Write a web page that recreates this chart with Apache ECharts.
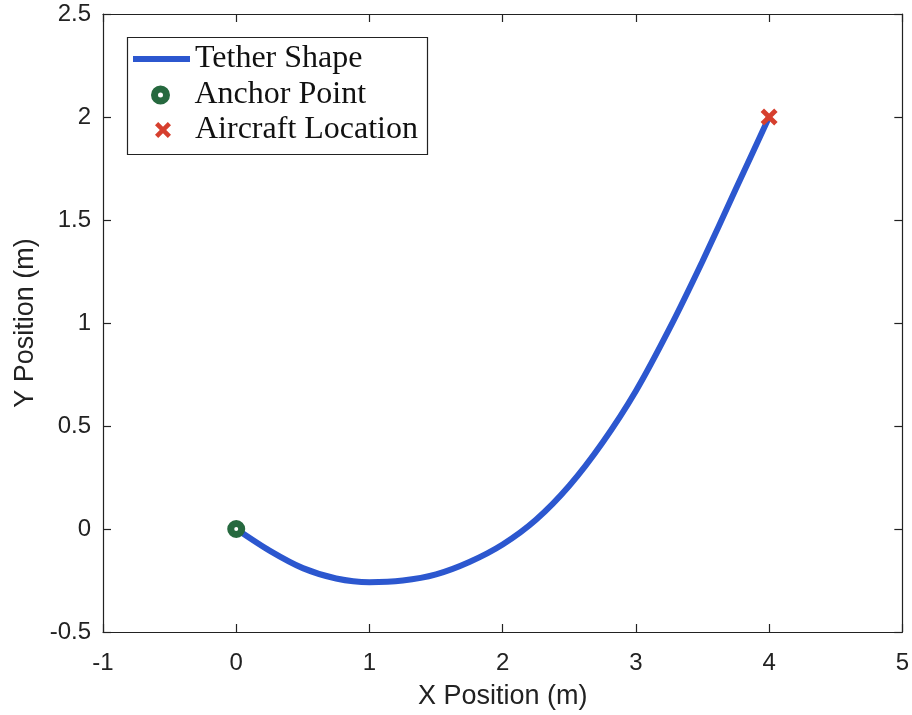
<!DOCTYPE html>
<html>
<head>
<meta charset="utf-8">
<script src="https://cdn.jsdelivr.net/npm/echarts@6/dist/echarts.min.js"></script>
<style>html,body{margin:0;padding:0;background:#fff;}#c{width:912px;height:715px;}</style>
</head>
<body>
<div id="c"></div>
<script>
// Tether shape samples
var tetherX = [0, 0.25, 0.5, 0.75, 1.0, 1.25, 1.5, 1.75, 2.0, 2.25, 2.5, 2.75, 3.0, 3.25, 3.5, 3.75, 4.0];
var tetherY = [0, -0.105, -0.19, -0.24, -0.258, -0.25, -0.22, -0.16, -0.075, 0.045, 0.21, 0.42, 0.67, 0.97, 1.30, 1.65, 2.0];
var anchorPoint = [0, 0];
var aircraftPoint = [4, 2];
var seriesNames = ['Tether Shape', 'Anchor Point', 'Aircraft Location'];
var xLabel = 'X Position (m)';
var yLabel = 'Y Position (m)';

var blue = '#2c57cf', green = '#26693f', red = '#d63f2e';
var xPath = 'path://M0,2L2,0L5,3L8,0L10,2L7,5L10,8L8,10L5,7L2,10L0,8L3,5Z';
var barPath = 'path://M0,0H57V6H0Z';

var tetherData = tetherX.map(function (x, i) { return [x, tetherY[i]]; });
var chart = echarts.init(document.getElementById('c'), null, {renderer: 'canvas'});
var sans = 'Liberation Sans, Arial, sans-serif';
var serif = 'Liberation Serif, Times New Roman, serif';
var axCommon = {
  axisLine: {show: true, onZero: false, lineStyle: {color: '#222', width: 1.2}},
  axisTick: {show: true, inside: true, length: 8, lineStyle: {color: '#222', width: 1.2}},
  splitLine: {show: false}
};
function legText(p) { return {fontFamily: serif, fontSize: 32, color: '#111', padding: [0, 0, 0, p]}; }
chart.setOption({
  animation: false,
  backgroundColor: '#fff',
  grid: {left: 103, right: 9, top: 14, bottom: 81},
  xAxis: [
    Object.assign({type: 'value', min: -1, max: 5, interval: 1, position: 'bottom',
      name: xLabel, nameLocation: 'middle', nameGap: 51,
      nameTextStyle: {fontFamily: sans, fontSize: 27, color: '#222'},
      axisLabel: {fontFamily: sans, fontSize: 24, color: '#222', margin: 19}}, axCommon),
    Object.assign({type: 'value', min: -1, max: 5, interval: 1, position: 'top',
      axisLabel: {show: false}}, axCommon)
  ],
  yAxis: [
    Object.assign({type: 'value', min: -0.5, max: 2.5, interval: 0.5, position: 'left',
      name: yLabel, nameLocation: 'middle', nameGap: 62,
      nameTextStyle: {fontFamily: sans, fontSize: 27, color: '#222'},
      axisLabel: {fontFamily: sans, fontSize: 24, color: '#222', margin: 12}}, axCommon),
    Object.assign({type: 'value', min: -0.5, max: 2.5, interval: 0.5, position: 'right',
      axisLabel: {show: false}}, axCommon)
  ],
  legend: [
    {data: [seriesNames[0]], icon: barPath, left: 128, top: 38, padding: 5, itemWidth: 57, itemHeight: 26,
     textStyle: legText(0), itemStyle: {color: blue, borderWidth: 0}},
    {data: [seriesNames[1]], icon: 'circle', left: 146, top: 74, padding: 5, itemWidth: 12, itemHeight: 12,
     textStyle: legText(23), itemStyle: {color: '#fff', borderColor: green, borderWidth: 7}},
    {data: [seriesNames[2]], icon: xPath, left: 150, top: 109, padding: 5, itemWidth: 16, itemHeight: 16,
     textStyle: legText(19), itemStyle: {color: red, borderWidth: 0}}
  ],
  graphic: [{type: 'rect', left: 125, top: 35, shape: {width: 300, height: 117},
    style: {fill: 'none', stroke: '#222', lineWidth: 1.2}, z: 1}],
  series: [
    {name: seriesNames[0], type: 'line', data: tetherData, smooth: 0.25, symbol: 'none',
     lineStyle: {color: blue, width: 6}, itemStyle: {color: blue}, z: 2},
    {name: seriesNames[1], type: 'scatter', data: [anchorPoint], symbol: 'circle', symbolSize: 11,
     itemStyle: {color: '#fff', borderColor: green, borderWidth: 7, opacity: 1}, z: 3},
    {name: seriesNames[2], type: 'scatter', data: [aircraftPoint], symbol: xPath, symbolSize: 17,
     itemStyle: {color: red, opacity: 1}, z: 3}
  ]
});
</script>
</body>
</html>
